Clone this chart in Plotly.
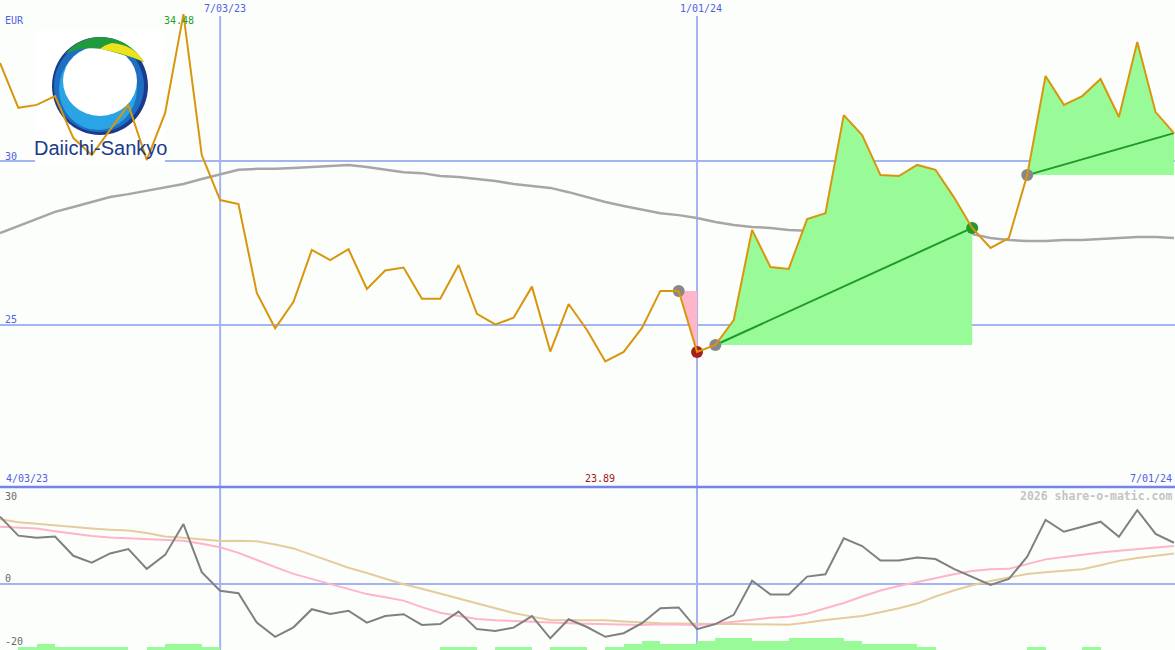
import pandas as pd
import plotly.graph_objects as go

W, H = 1175, 650

# ---------------- data ----------------
dates = [d.strftime("%Y-%m-%d") for d in pd.date_range("2023-04-10", periods=65, freq="7D")]

price = [32.99, 31.62, 31.71, 31.98, 30.70, 30.18, 30.95, 31.71, 30.03, 31.46,
         34.48, 30.18, 28.81, 28.69, 25.98, 24.90, 25.71, 27.29, 26.98, 27.31,
         26.10, 26.66, 26.75, 25.80, 25.80, 26.83, 25.34, 25.02, 25.22, 26.17,
         24.19, 25.64, 24.85, 23.89, 24.18, 24.91, 26.04, 26.04, 24.18, 24.39,
         25.15, 27.90, 26.77, 26.71, 28.23, 28.41, 31.40, 30.79, 29.57, 29.54,
         29.88, 29.73, 28.90, 27.96, 27.35, 27.65, 29.57, 32.59, 31.71, 31.98,
         32.50, 31.34, 33.63, 31.49, 30.85]

ma_long = [27.80, 28.02, 28.23, 28.45, 28.60, 28.75, 28.90, 28.99, 29.09, 29.18,
           29.30, 29.45, 29.60, 29.73, 29.76, 29.76, 29.79, 29.82, 29.85, 29.88,
           29.82, 29.73, 29.66, 29.63, 29.54, 29.51, 29.45, 29.39, 29.30, 29.24,
           29.18, 29.05, 28.90, 28.75, 28.63, 28.51, 28.41, 28.35, 28.26, 28.14,
           28.05, 27.99, 27.96, 27.90, 27.87, 27.87, 27.90, 27.90, 27.90, 27.93,
           27.93, 27.90, 27.87, 27.77, 27.65, 27.59, 27.56, 27.56, 27.59, 27.59,
           27.62, 27.65, 27.68, 27.68, 27.65]

momentum = [22.7, 16.3, 15.6, 16.0, 9.5, 7.2, 10.3, 11.8, 5.1, 9.8,
            20.2, 4.0, -2.3, -3.1, -13.0, -17.8, -14.6, -8.5, -10.1, -9.0,
            -13.0, -10.8, -10.2, -13.8, -13.5, -9.3, -15.2, -15.8, -14.7, -10.8,
            -18.3, -11.9, -14.5, -17.8, -16.6, -13.2, -8.2, -7.9, -15.2, -13.5,
            -10.4, 1.1, -3.5, -3.5, 2.5, 3.3, 15.4, 12.8, 7.9, 7.9,
            8.9, 8.4, 5.1, 2.3, -0.3, 1.7, 9.2, 21.6, 17.6, 19.3,
            21.0, 15.9, 24.9, 16.9, 13.9]

osc_pink = [19.3, 19.0, 18.7, 17.8, 17.0, 16.2, 15.7, 15.4, 15.1, 14.8,
            14.6, 13.6, 12.4, 10.5, 8.0, 5.7, 3.4, 1.7, 0.0, -1.7,
            -3.4, -4.5, -5.6, -7.8, -9.7, -10.8, -11.8, -12.2, -12.5, -12.7,
            -13.0, -13.2, -13.4, -13.5, -13.7, -13.8, -13.6, -13.6, -13.8, -13.4,
            -12.7, -12.0, -11.4, -11.0, -10.0, -8.2, -6.4, -4.2, -2.2, -0.7,
            0.7, 2.0, 3.3, 4.4, 5.0, 5.1, 6.8, 8.3, 9.1, 9.9,
            10.6, 11.2, 11.8, 12.3, 12.8]

osc_tan = [21.8, 20.8, 20.3, 19.7, 19.2, 18.7, 18.3, 18.0, 17.2, 16.0,
           15.6, 15.0, 14.5, 14.6, 14.4, 13.3, 12.0, 9.8, 7.6, 5.5,
           3.7, 1.9, -0.1, -1.6, -3.2, -4.8, -6.5, -8.2, -9.8, -11.0,
           -12.1, -12.2, -12.1, -12.2, -12.6, -13.0, -13.2, -13.3, -13.5, -13.5,
           -13.5, -13.6, -13.6, -13.7, -13.0, -12.1, -11.5, -10.8, -9.5, -8.2,
           -6.6, -4.2, -2.2, -0.4, 1.0, 2.3, 3.4, 4.0, 4.5, 5.0,
           6.3, 7.8, 8.8, 9.6, 10.3]

bar_levels = [0, 1, 2, 1, 1, 1, 1, 0, 1, 2,
              2, 1, 0, 0, 0, 0, 0, 0, 0, 0,
              0, 0, 0, 0, 1, 1, 0, 1, 1, 0,
              1, 1, 0, 1, 2, 3, 2, 2, 3, 4,
              4, 3, 3, 4, 4, 4, 3, 2, 2, 2,
              1, 0, 0, 0, 0, 0, 1, 0, 0, 1,
              0, 0, 0, 0, 0]

# signal segments (indices into the weekly series)
sell_start, sell_end = 37, 38
buy1_start, buy1_end = 39, 53
buy2_start, buy2_end = 56, 64

price_ticks = [30, 25]
osc_ticks = [30, 0, -20]
vlines = ["2023-07-03", "2024-01-01"]
x_range = ["2023-04-10", "2024-07-01 09:30"]

# ---------------- helpers ----------------
def px(x):
    return x / W

def py(y):
    return 1 - y / H

def path_px(cmds):
    out = []
    for c in cmds:
        if isinstance(c, str):
            out.append(c)
        else:
            out.append(f"{px(c[0]):.5f},{py(c[1]):.5f}")
    return " ".join(out)

PRICE_COL = "#d8960c"
GRID = "#a4b4f2"
GREEN_FILL = "#98fb98"

fig = go.Figure()

# long moving average
fig.add_trace(go.Scatter(x=dates, y=ma_long, mode="lines",
                         line=dict(color="#a6a6a6", width=2.5), yaxis="y"))

# buy zone 1
b1 = price[buy1_start]
xs = dates[buy1_start:buy1_end + 1] + [dates[buy1_end]]
ys = price[buy1_start:buy1_end + 1] + [b1]
fig.add_trace(go.Scatter(x=xs, y=ys, fill="toself", fillcolor=GREEN_FILL,
                         mode="none", yaxis="y"))
# buy zone 2
b2 = price[buy2_start]
xs = dates[buy2_start:buy2_end + 1] + [dates[buy2_end]]
ys = price[buy2_start:buy2_end + 1] + [b2]
fig.add_trace(go.Scatter(x=xs, y=ys, fill="toself", fillcolor=GREEN_FILL,
                         mode="none", yaxis="y"))
# sell zone
fig.add_trace(go.Scatter(x=[dates[sell_start], dates[sell_end], dates[sell_end]],
                         y=[price[sell_start], price[sell_start], price[sell_end]],
                         fill="toself", fillcolor="#ffb6c8", mode="none", yaxis="y"))

# trend lines
for a, b in [(buy1_start, buy1_end), (buy2_start, buy2_end)]:
    fig.add_trace(go.Scatter(x=[dates[a], dates[b]], y=[price[a], price[b]],
                             mode="lines", line=dict(color="#1f9a2a", width=2), yaxis="y"))

# signal dots
dot_idx = [sell_start, sell_end, buy1_start, buy1_end, buy2_start]
dot_col = ["#888888", "#a81c1c", "#888888", "#22992a", "#888888"]
fig.add_trace(go.Scatter(x=[dates[i] for i in dot_idx], y=[price[i] for i in dot_idx],
                         mode="markers", marker=dict(size=12, color=dot_col, line=dict(width=0)),
                         yaxis="y"))

# price line
fig.add_trace(go.Scatter(x=dates, y=price, mode="lines",
                         line=dict(color=PRICE_COL, width=2), yaxis="y"))

# lower panel
fig.add_trace(go.Bar(x=dates, y=bar_levels, marker=dict(color=GREEN_FILL, line=dict(width=0)),
                     width=7 * 86400000, offset=0, yaxis="y3"))
fig.add_trace(go.Scatter(x=dates, y=osc_tan, mode="lines",
                         line=dict(color="#e4cc9c", width=2), yaxis="y2"))
fig.add_trace(go.Scatter(x=dates, y=osc_pink, mode="lines",
                         line=dict(color="#ffb4c8", width=2), yaxis="y2"))
fig.add_trace(go.Scatter(x=dates, y=momentum, mode="lines",
                         line=dict(color="#808080", width=2), yaxis="y2"))

# ---------------- shapes ----------------
shapes = []
for t in price_ticks:
    shapes.append(dict(type="line", xref="paper", yref="y", x0=0, x1=1, y0=t, y1=t,
                       line=dict(color=GRID, width=2), layer="below"))
shapes.append(dict(type="line", xref="paper", yref="y2", x0=0, x1=1, y0=0, y1=0,
                   line=dict(color=GRID, width=2), layer="below"))
for v in vlines:
    shapes.append(dict(type="line", xref="x", yref="paper", x0=v, x1=v, y0=py(16), y1=0,
                       line=dict(color=GRID, width=2), layer="below"))
shapes.append(dict(type="line", xref="paper", yref="paper", x0=0, x1=1, y0=py(487), y1=py(487),
                   line=dict(color="#7584e8", width=2.5), layer="below"))

# logo (Daiichi-Sankyo) drawn with shapes
def circ(cx, cy, rx, ry, col):
    return dict(type="circle", xref="paper", yref="paper",
                x0=px(cx - rx), x1=px(cx + rx), y0=py(cy + ry), y1=py(cy - ry),
                fillcolor=col, line=dict(width=0), layer="below")

shapes.append(dict(type="rect", xref="paper", yref="paper", x0=px(35), x1=px(165),
                   y0=py(163), y1=py(30), fillcolor="#ffffff", line=dict(width=0), layer="below"))
shapes.append(circ(100, 86, 48, 49, "#1a3a8c"))
shapes.append(circ(99, 86, 45, 46, "#1e6fc2"))
shapes.append(circ(98, 89, 39, 41, "#2aa4e4"))
shapes.append(circ(100, 81, 37, 35, "#ffffff"))
shapes.append(dict(type="path", xref="paper", yref="paper", layer="below",
                   path=path_px(["M", (65, 54), "C", (84, 30), (124, 30), (144, 62),
                                 "Q", (122, 54), (102, 49), "Q", (82, 46), (65, 54), "Z"]),
                   fillcolor="#1f9a3c", line=dict(width=0)))
shapes.append(dict(type="path", xref="paper", yref="paper", layer="below",
                   path=path_px(["M", (100, 49), "Q", (124, 53), (144, 62),
                                 "Q", (134, 45), (112, 43), "Q", (104, 45), (100, 49), "Z"]),
                   fillcolor="#eee21c", line=dict(width=0)))

# ---------------- annotations ----------------
MONO = "DejaVu Sans Mono"
BLUE = "#5060e6"
ann = []

def text(x, y, s, col, size=10, anchor="left", family=MONO, bold=False):
    ann.append(dict(x=px(x), y=py(y), xref="paper", yref="paper", text=(f"<b>{s}</b>" if bold else s),
                    showarrow=False, xanchor=anchor, yanchor="middle",
                    font=dict(family=family, size=size, color=col), borderpad=0))

text(4, 21, "EUR", BLUE)
text(163, 21, f"{max(price):.2f}", "#22a022")
text(225, 9, "7/03/23", BLUE, anchor="center")
text(701, 9, "1/01/24", BLUE, anchor="center")
text(4, 156, str(price_ticks[0]), BLUE)
text(4, 319, str(price_ticks[1]), BLUE)
text(5, 478, "4/03/23", BLUE)
text(600, 478, f"{min(price):.2f}", "#a01818", anchor="center")
text(1173, 478, "7/01/24", BLUE, anchor="right")
text(1173, 496, "2026 share-o-matic.com", "#c4c4c4", size=11.5, anchor="right", bold=True)
text(4, 496, str(osc_ticks[0]), "#6a6a6a")
text(4, 578, str(osc_ticks[1]), "#6a6a6a")
text(4, 641, str(osc_ticks[2]), "#6a6a6a")
text(100, 148, "Daiichi-Sankyo", "#1b3c8c", size=20, anchor="center", family="Liberation Sans")

# ---------------- layout ----------------
top_dom = [py(487), 1]
bot_dom = [0, py(487)]
# price scale: 30 at y=161, 32.8 px per unit
p_hi = 30 + 161 / 32.8
p_lo = 30 - (487 - 161) / 32.8
# oscillator scale: 0 at y=584, 2.967 px per unit
o_hi = (584 - 487) / 2.967
o_lo = (584 - 650) / 2.967

fig.update_layout(
    width=W, height=H,
    margin=dict(l=0, r=0, t=0, b=0),
    paper_bgcolor="#fcfefc",
    plot_bgcolor="rgba(0,0,0,0)",
    showlegend=False,
    hovermode=False,
    xaxis=dict(range=x_range, visible=False, showgrid=False, anchor="y2"),
    yaxis=dict(domain=top_dom, range=[p_lo, p_hi], visible=False, showgrid=False, anchor="x"),
    yaxis2=dict(domain=bot_dom, range=[o_lo, o_hi], visible=False, showgrid=False, anchor="x"),
    yaxis3=dict(domain=bot_dom, range=[0, o_hi - o_lo], visible=False, showgrid=False,
                overlaying="y2", anchor="x"),
    shapes=shapes,
    annotations=ann,
    bargap=0,
)

fig.write_html("out.html", config={"displayModeBar": False, "staticPlot": True},
               post_script="document.body.style.margin='0';document.body.style.padding='0';"
                           "document.body.style.overflow='hidden';")
